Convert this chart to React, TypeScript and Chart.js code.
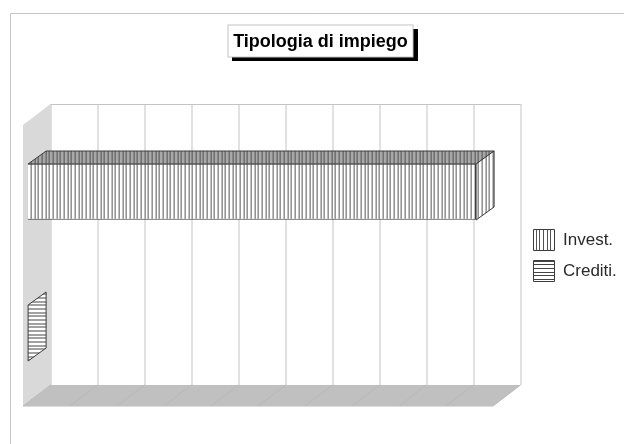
import React, { useEffect, useRef } from "react";
import { Chart, registerables } from "chart.js";

Chart.register(...registerables);

const categories = ["Invest.", "Crediti."];
const investValues = [95.4, null];
const creditiValues = [null, 0];
const chartTitle = "Tipologia di impiego";
const axisMax = 100;
const axisStep = 10;

const FONT = '"Liberation Sans", Arial, sans-serif';
const WALL_DX = 27.5;
const WALL_DY = -21;
const BAR_INSET_X = 4.6;
const BAR_INSET_Y = -3.5;
const BAR_DX = 18;
const BAR_DY = -13;
const LINE = "#c4c4c4";
const INK = "#3c3c3c";

function makePattern(vertical: boolean, bg: string, ink: string) {
  const c = document.createElement("canvas");
  const size = 11;
  c.width = size;
  c.height = size;
  const g = c.getContext("2d")!;
  g.fillStyle = bg;
  g.fillRect(0, 0, size, size);
  g.fillStyle = ink;
  for (const p of [0, 4, 8]) {
    if (vertical) g.fillRect(p, 0, 1, size);
    else g.fillRect(0, p, size, 1);
  }
  return g.createPattern(c, "repeat")!;
}

function poly(ctx: CanvasRenderingContext2D, pts: number[][], fill: any, stroke?: string) {
  ctx.beginPath();
  pts.forEach((p, i) => (i ? ctx.lineTo(p[0], p[1]) : ctx.moveTo(p[0], p[1])));
  ctx.closePath();
  ctx.fillStyle = fill;
  ctx.fill();
  if (stroke) {
    ctx.strokeStyle = stroke;
    ctx.lineWidth = 1;
    ctx.stroke();
  }
}

export default function App() {
  const ref = useRef<HTMLCanvasElement>(null);

  useEffect(() => {
    const vFront = makePattern(true, "#ffffff", "#555555");
    const hFront = makePattern(false, "#ffffff", "#444444");
    const vTop = makePattern(true, "#a8a8a8", "#505050");

    const frame3d = {
      id: "frame3d",
      afterLayout(chart: any) {
        const lg = chart.legend;
        const pad = lg.options.labels.padding;
        lg.left = 533.5 - pad;
        lg.top = 229.5 - pad;
        lg.right = 624;
        lg.bottom = 444;
        chart.titleBlock.left += 62.5;
        chart.titleBlock.right += 62.5;
      },
      beforeDraw(chart: any) {
        const { ctx, chartArea: a, scales } = chart;
        ctx.save();
        ctx.strokeStyle = LINE;
        ctx.lineWidth = 1;
        ctx.beginPath();
        ctx.moveTo(10.5, 444);
        ctx.lineTo(10.5, 13.5);
        ctx.lineTo(624, 13.5);
        ctx.stroke();

        // title box
        ctx.fillStyle = "#000000";
        ctx.fillRect(232, 29, 186, 32);
        ctx.fillStyle = "#ffffff";
        ctx.fillRect(228, 25, 185, 32);
        ctx.strokeStyle = LINE;
        ctx.strokeRect(228, 25, 185, 32);

        const dx = WALL_DX;
        const dy = WALL_DY;
        const L = a.left;
        const R = a.right;
        const T = a.top;
        const B = a.bottom;

        // side wall and floor
        poly(ctx, [[L, T], [L + dx, T + dy], [L + dx, B + dy], [L, B]], "#d9d9d9");
        poly(ctx, [[L, B], [L + dx, B + dy], [R + dx, B + dy], [R, B]], "#c0c0c0");

        // grid on the back wall and floor
        for (const t of scales.x.ticks) {
          const x = Math.round(scales.x.getPixelForValue(t.value));
          ctx.strokeStyle = "#b9b9b9";
          ctx.beginPath();
          ctx.moveTo(x, B);
          ctx.lineTo(x + dx, B + dy);
          ctx.stroke();
          ctx.strokeStyle = LINE;
          ctx.beginPath();
          ctx.moveTo(x + dx + 0.5, T + dy);
          ctx.lineTo(x + dx + 0.5, B + dy);
          ctx.stroke();
        }
        ctx.strokeStyle = LINE;
        ctx.beginPath();
        ctx.moveTo(L + dx, T + dy + 0.5);
        ctx.lineTo(R + dx, T + dy + 0.5);
        ctx.stroke();
        ctx.strokeStyle = "#dcdcdc";
        ctx.beginPath();
        ctx.moveTo(L, B + 0.5);
        ctx.lineTo(R, B + 0.5);
        ctx.stroke();
        ctx.restore();
      },
      beforeDatasetDraw(chart: any, args: any) {
        const { ctx } = chart;
        ctx.save();
        ctx.translate(BAR_INSET_X, BAR_INSET_Y);
        const meta = chart.getDatasetMeta(args.index);
        const isInvest = args.index === 0;
        meta.data.forEach((bar: any, i: number) => {
          const raw = chart.data.datasets[args.index].data[i];
          if (raw === null) return;
          const top = Math.round(bar.y - bar.height / 2) + 0.5;
          const bottom = Math.round(bar.y + bar.height / 2) + 0.5;
          const left = Math.round(bar.base) + 0.5;
          const right = Math.round(bar.x) + 0.5;
          if (right > left) {
            poly(ctx, [[left, top], [left + BAR_DX, top + BAR_DY], [right + BAR_DX, top + BAR_DY], [right, top]], vTop, INK);
          }
          poly(
            ctx,
            [[right, top], [right + BAR_DX, top + BAR_DY], [right + BAR_DX, bottom + BAR_DY], [right, bottom]],
            isInvest ? vFront : hFront,
            INK
          );
        });
      },
      afterDatasetDraw(chart: any) {
        chart.ctx.restore();
      },
    };

    const chart = new Chart(ref.current!, {
      type: "bar",
      data: {
        labels: categories,
        datasets: [
          {
            label: "Invest.",
            data: investValues,
            backgroundColor: vFront,
            borderColor: INK,
            borderWidth: 1,
          },
          {
            label: "Crediti.",
            data: creditiValues,
            backgroundColor: hFront,
            borderColor: INK,
            borderWidth: 1,
          },
        ],
      } as any,
      options: {
        indexAxis: "y",
        responsive: false,
        animation: false,
        devicePixelRatio: 1,
        barPercentage: 0.4,
        categoryPercentage: 1,
        layout: { padding: { left: 23, right: 131, top: 0, bottom: 38 } },
        scales: {
          x: {
            display: false,
            stacked: true,
            min: 0,
            max: axisMax,
            ticks: { stepSize: axisStep },
          },
          y: { display: false, stacked: true },
        },
        plugins: {
          tooltip: { enabled: false },
          title: {
            display: true,
            text: chartTitle,
            color: "#000000",
            font: { family: FONT, size: 18, weight: "bold", lineHeight: 1.2 },
            padding: { top: 31, bottom: 72.4 },
          },
          legend: {
            position: "chartArea",
            align: "start",
            labels: {
              boxWidth: 21,
              boxHeight: 21,
              padding: 10,
              color: "#2a2a2a",
              font: { family: FONT, size: 17 },
            },
          },
        },
      } as any,
      plugins: [frame3d],
    });
    return () => chart.destroy();
  }, []);

  return (
    <canvas
      ref={ref}
      width={624}
      height={444}
      style={{ position: "absolute", left: 0, top: 0, display: "block" }}
    />
  );
}
